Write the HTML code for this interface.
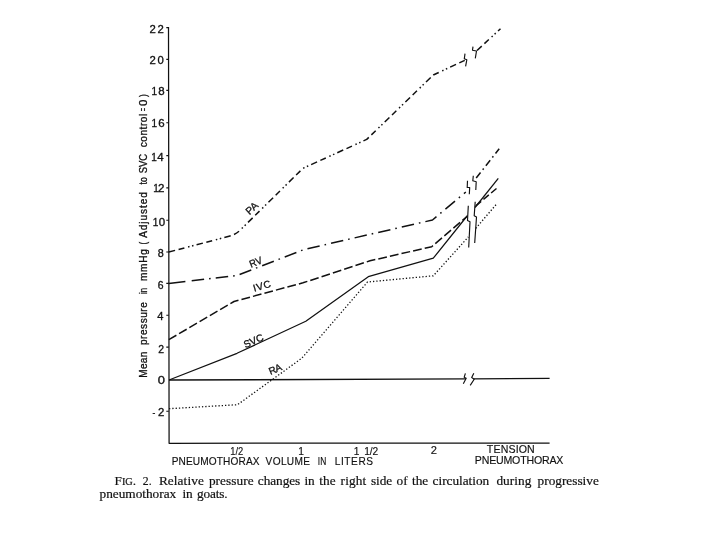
<!DOCTYPE html>
<html lang="en"><head><meta charset="utf-8"><title>Fig. 2</title>
<style>
html,body{margin:0;padding:0;background:#fff;}
body{width:720px;height:540px;overflow:hidden;position:relative;}
svg{position:absolute;left:0;top:0;display:block;}
.sans{font-family:"Liberation Sans","DejaVu Sans",sans-serif;fill:#111;}
.serif{font-family:"Liberation Serif","DejaVu Serif",serif;fill:#111;}
.bd{stroke:#111;stroke-width:0.3px;}
.bs{stroke:#111;stroke-width:0.2px;}
.ln{fill:none;stroke:#111;stroke-linejoin:round;}
</style></head><body>
<svg width="720" height="540" viewBox="0 0 720 540">
<rect width="720" height="540" fill="#fff"/>

<g class="ln" stroke-width="1.25">
<path d="M168.5,27 L169.1,443.3 L549.6,443.0"/>
<path d="M169,380 L466,378.9 M473.5,378.9 L549.6,378.4" stroke-width="1.4"/>
<path d="M166.3,27.6 L168.8,27.6 M166.3,59.4 L168.8,59.4 M166.3,90.4 L168.8,90.4 M166.3,122.7 L168.8,122.7 M166.3,155.6 L168.8,155.6 M166.3,187.9 L168.8,187.9 M166.3,220.2 L168.8,220.2 M166.3,252.0 L168.8,252.0 M166.3,283.4 L168.8,283.4 M166.3,315.2 L168.8,315.2 M166.3,347.1 L168.8,347.1 M166.3,411.3 L168.8,411.3" stroke-width="1.1"/>
</g>
<g class="ln">
<path d="M168.8,252 L229,236.3 Q235.7,234.5 240,230.3 L303,168.3 L366.7,139.4 L433.3,75 L465.6,60" stroke-width="1.5" stroke-dasharray="6.5 3.6 6 3.8 1.5 2.6 1.5 3.2"/>
<path d="M477,50.5 L500.5,28.7" stroke-width="1.5" stroke-dasharray="6.5 3.6 6 3.8 1.5 2.6 1.5 3.2"/>
<path d="M168.8,283.5 L185.4,281.6" stroke-width="1.5"/>
<path d="M191.7,280.8 L237,275.5 L303.3,249.8 L367,235 L432.5,220 L465.8,192" stroke-width="1.5" stroke-dasharray="12.5 5 1.6 5.1"/>
<path d="M476.2,178 L499.2,148.8" stroke-width="1.5" stroke-dasharray="7 3.5 1.6 3.5"/>
<path d="M168.8,339.7 L234,301.5 L303,282.8 L370,260.8 L431.7,246.7 L467,216.5" stroke-width="1.5" stroke-dasharray="8.8 3.1"/>
<path d="M475.8,205.8 L496.7,188.3" stroke-width="1.5" stroke-dasharray="7 3"/>
<path d="M169,380 L237,353.3 L305.8,321.3 L368.3,276.7 L433.3,258.2 L467.5,215.5" stroke-width="1.25"/>
<path d="M475,207.5 L498.3,178.3" stroke-width="1.25"/>
<path d="M169,408.7 L237.5,404.7 L301.7,358.3 L367.5,282 L433.3,275.8 L468.3,237" stroke-width="1.3" stroke-dasharray="1.3 2"/>
<path d="M475.8,228.3 L497.2,203.3" stroke-width="1.3" stroke-dasharray="1.3 2"/>
</g>
<g class="ln" stroke-width="1.15">
<path d="M465.4,373.3 L464.2,377.2 L466.2,378.2 L463.3,383.8"/>
<path d="M473.8,373.3 L471.7,377.6 L474.2,379.2 L470.2,385.4"/>
<path d="M465,53.7 L464.3,58.8 L466.8,59.8 L465.6,66.3"/>
<path d="M473,46.7 L472.5,50.2 L476.5,51 L475.3,58.3"/>
<path d="M467.5,180.8 L467.2,187.5 L469.7,187.5 L469.3,194.2"/>
<path d="M473.3,175.8 L472.8,180.8 L476.2,181.7 L475.8,190"/>
<path d="M468.3,205.8 L467.5,220.5 L470,221.7 L468.7,247.5"/>
<path d="M475.2,201.7 L474.2,215.8 L476.5,217 L474.7,243"/>
</g>
<g class="sans bd">
<text transform="translate(149.60,32.50) scale(1.133,1)" font-size="10">2</text>
<text transform="translate(157.60,32.50) scale(1.133,1)" font-size="10">2</text>
<text transform="translate(149.40,64.40) scale(1.133,1)" font-size="10">2</text>
<text transform="translate(157.40,64.40) scale(1.133,1)" font-size="10">0</text>
<text transform="translate(151.44,95.10) scale(1.000,1)" font-size="10">1</text>
<text transform="translate(158.20,95.10) scale(1.151,1)" font-size="10">8</text>
<text transform="translate(151.44,127.40) scale(1.000,1)" font-size="10">1</text>
<text transform="translate(158.20,127.40) scale(1.151,1)" font-size="10">6</text>
<text transform="translate(151.24,160.60) scale(1.000,1)" font-size="10">1</text>
<text transform="translate(157.20,160.60) scale(1.151,1)" font-size="10">4</text>
<text transform="translate(153.24,191.50) scale(1.000,1)" font-size="10">1</text>
<text transform="translate(158.00,191.50) scale(1.151,1)" font-size="10">2</text>
<text transform="translate(152.84,225.50) scale(1.000,1)" font-size="10">1</text>
<text transform="translate(158.80,225.50) scale(1.151,1)" font-size="10">0</text>
<text transform="translate(157.80,256.90) scale(1.079,1)" font-size="10">8</text>
<text transform="translate(157.80,289.00) scale(1.043,1)" font-size="10">6</text>
<text transform="translate(157.30,320.40) scale(1.115,1)" font-size="10">4</text>
<text transform="translate(158.20,352.80) scale(1.043,1)" font-size="10">2</text>
<text transform="translate(157.80,383.80) scale(1.295,1)" font-size="10">0</text>
<text transform="translate(152.60,415.90) scale(0.841,1)" font-size="10">-</text>
<text transform="translate(158.00,416.40) scale(1.133,1)" font-size="10">2</text>
</g>
<g class="sans bd">
<text transform="translate(147.20,377.80) rotate(-90) translate(-0.00,0)" font-size="10.1" letter-spacing="0.280">Mean</text>
<text transform="translate(147.20,345.00) rotate(-90) translate(-0.00,0)" font-size="10.1" letter-spacing="0.500">pressure</text>
<text transform="translate(147.20,293.90) rotate(-90) translate(-0.00,0) scale(0.776,1)" font-size="10.1">in</text>
<text transform="translate(147.20,281.10) rotate(-90) translate(-0.00,0)" font-size="10.1" letter-spacing="0.789">mmHg</text>
<text transform="translate(147.20,244.60) rotate(-90) translate(-0.00,0) scale(0.803,1)" font-size="10.1">(</text>
<text transform="translate(147.20,237.80) rotate(-90) translate(-0.00,0)" font-size="10.1" letter-spacing="0.899">Adjusted</text>
<text transform="translate(147.20,184.40) rotate(-90) translate(-0.00,0) scale(0.855,1)" font-size="10.1">to</text>
<text transform="translate(147.20,173.30) rotate(-90) translate(-0.00,0) scale(0.934,1)" font-size="10.1">SVC</text>
<text transform="translate(147.20,147.30) rotate(-90) translate(-0.00,0)" font-size="10.1" letter-spacing="0.532">control</text>
<text transform="translate(147.20,111.20) rotate(-90) translate(-0.00,0) scale(0.543,1)" font-size="10.1">=</text>
<text transform="translate(147.20,106.00) rotate(-90) translate(-0.00,0) scale(1.140,1)" font-size="10.1">0</text>
<text transform="translate(147.20,97.00) rotate(-90) translate(-0.00,0) scale(0.833,1)" font-size="10.1">)</text>
</g>
<g class="sans bd">
<text transform="translate(249.60,215.20) rotate(-43) translate(-0.00,0)" font-size="10.2" letter-spacing="-0.052">PA</text>
<text transform="translate(251.00,267.80) rotate(-22) translate(-0.00,0) scale(0.930,1)" font-size="10.2">RV</text>
<text transform="translate(254.30,291.70) rotate(-16) translate(-0.00,0)" font-size="10" letter-spacing="0.565">IVC</text>
<text transform="translate(245.50,348.30) rotate(-24) translate(-0.00,0)" font-size="10" letter-spacing="0.020">SVC</text>
<text transform="translate(270.40,374.90) rotate(-23) translate(-0.00,0)" font-size="10" letter-spacing="-0.590">RA</text>
</g>
<g class="sans bd" style="stroke-width:0.15px">
<text transform="translate(230.20,455.00) scale(0.917,1)" font-size="10.2">1/2</text>
<text transform="translate(298.33,454.80) scale(1.000,1)" font-size="10.2">1</text>
<text transform="translate(353.73,454.50) scale(1.000,1)" font-size="10.2">1</text>
<text transform="translate(364.30,454.50)" font-size="10.2" letter-spacing="-0.139">1/2</text>
<text transform="translate(430.80,453.80) scale(1.093,1)" font-size="10.2">2</text>
<text transform="translate(171.70,465.40)" font-size="10.1" letter-spacing="0.135">PNEUMOTHORAX</text>
<text transform="translate(265.60,465.20)" font-size="10.1" letter-spacing="0.350">VOLUME</text>
<text transform="translate(317.80,465.00) scale(0.832,1)" font-size="10.1">IN</text>
<text transform="translate(334.80,464.90)" font-size="10.1" letter-spacing="0.568">LITERS</text>
<text transform="translate(486.80,453.40)" font-size="10.6" letter-spacing="0.147">TENSION</text>
<text transform="translate(474.80,463.50)" font-size="10.6" letter-spacing="-0.190">PNEUMOTHORAX</text>
</g>
<g class="serif bs">
<text x="114.5" y="484.6" font-size="13.3">F<tspan font-size="10.3">IG</tspan>.</text>
<text transform="translate(142.80,484.60) scale(0.882,1)" font-size="13.3">2.</text>
<text transform="translate(158.90,484.60)" font-size="13.3" letter-spacing="0.083">Relative</text>
<text transform="translate(208.90,484.60)" font-size="13.3" letter-spacing="0.055">pressure</text>
<text transform="translate(257.80,484.60)" font-size="13.3" letter-spacing="-0.057">changes</text>
<text transform="translate(304.60,484.60)" font-size="13.3" letter-spacing="-0.347">in</text>
<text transform="translate(319.30,484.60)" font-size="13.3" letter-spacing="0.024">the</text>
<text transform="translate(340.60,484.60)" font-size="13.3" letter-spacing="0.144">right</text>
<text transform="translate(370.90,484.60)" font-size="13.3" letter-spacing="-0.042">side</text>
<text transform="translate(396.40,484.60)" font-size="13.3" letter-spacing="0.308">of</text>
<text transform="translate(412.00,484.60)" font-size="13.3" letter-spacing="-0.026">the</text>
<text transform="translate(432.60,484.60)" font-size="13.3" letter-spacing="-0.027">circulation</text>
<text transform="translate(496.40,484.60)" font-size="13.3" letter-spacing="0.035">during</text>
<text transform="translate(537.60,484.60)" font-size="13.3" letter-spacing="-0.011">progressive</text>
<text transform="translate(99.60,498.20)" font-size="13.3" letter-spacing="-0.020">pneumothorax</text>
<text transform="translate(182.60,498.20)" font-size="13.3" letter-spacing="-0.347">in</text>
<text transform="translate(197.00,498.20)" font-size="13.3" letter-spacing="-0.160">goats.</text>
</g>
</svg></body></html>
